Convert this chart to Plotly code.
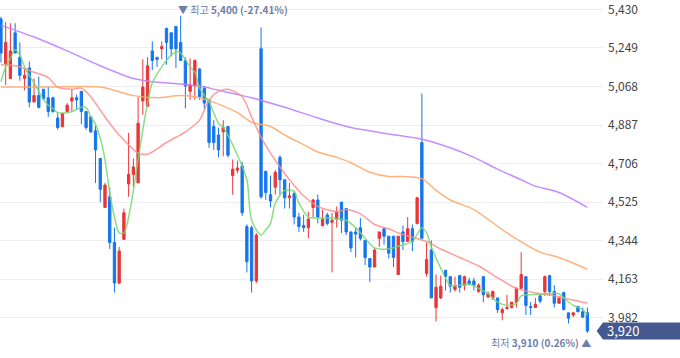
import plotly.graph_objects as go

# ---- candle data (index 0..124) ----
opens = [5385,5175,5105,5320,5205,5105,5155,4995,5025,5055,5015,5015,4920,4880,4950,5000,5015,5045,4950,4925,
         4860,4730,4500,4550,4335,4145,4350,4610,4655,4615,5000,4975,5235,5205,5245,5340,5320,5350,5275,5190,
         5045,5070,5150,5060,5005,4880,4840,4855,4880,4650,4675,4695,4410,4405,4155,5245,4670,4560,4595,4735,
         4630,4545,4565,4455,4415,4405,4500,4535,4415,4465,4430,4445,4525,4495,4385,4385,4405,4345,4260,4220,
         4355,4400,4365,4365,4185,4385,4340,4400,4425,4805,4190,4300,4030,4075,4205,4175,4115,4180,4135,4155,
         4155,4105,4175,4080,4075,4075,4005,4025,4030,4055,4120,4175,4035,4030,4085,4105,4180,4105,4050,4100,
         4005,3995,4035,4010,4005]
highs = [5395,5370,5365,5365,5275,5150,5185,5105,5115,5055,5070,5020,4945,4945,4990,5055,5030,5045,4950,4930,
         4885,4730,4615,4595,4405,4315,4495,4850,4730,5020,5195,5205,5280,5205,5280,5345,5320,5350,5400,5205,
         5200,5195,5155,5070,5005,4910,4875,4910,4880,4725,4720,4715,4420,4415,4380,5345,4670,4650,4675,4745,
         4630,4615,4575,4475,4465,4480,4540,4560,4490,4475,4475,4505,4525,4495,4385,4405,4450,4345,4260,4310,
         4385,4400,4365,4365,4365,4415,4455,4420,4550,5035,4335,4345,4185,4180,4205,4175,4175,4180,4180,4170,
         4170,4145,4175,4105,4110,4075,4030,4090,4055,4125,4290,4175,4055,4075,4090,4180,4180,4135,4075,4105,
         4005,4010,4035,4030,4030]
lows = [5180,5075,5105,5225,5095,5050,4970,4995,4965,5005,4925,4945,4865,4875,4945,4950,4960,4890,4865,4850,
        4615,4525,4500,4305,4100,4140,4350,4550,4595,4615,4935,4975,5145,5160,5195,5170,5210,5155,5190,4965,
        5005,5005,5005,4960,4780,4770,4735,4740,4735,4560,4660,4460,4195,4100,4145,4540,4535,4500,4560,4560,
        4495,4495,4420,4385,4385,4355,4455,4425,4410,4415,4195,4405,4380,4370,4290,4265,4345,4230,4150,4220,
        4315,4325,4260,4220,4185,4300,4340,4295,4420,4355,4175,4075,3965,4070,4110,4100,4105,4100,4110,4135,
        4110,4100,4055,4075,4065,4005,3970,4020,4025,4030,4120,3995,3995,4030,4050,4085,4085,4030,4050,4020,
        3955,3985,4010,3980,3910]
closes = [5225,5275,5235,5225,5120,5120,4995,5025,4970,5010,4950,4950,4875,4940,4980,5015,5005,4950,4875,4855,
          4770,4585,4605,4335,4145,4295,4475,4655,4690,4895,5065,5165,5190,5195,5255,5275,5245,5245,5190,5070,
          5075,5190,5020,4990,4805,4805,4770,4875,4745,4680,4685,4475,4245,4155,4370,4550,4570,4530,4665,4630,
          4545,4555,4455,4410,4405,4445,4535,4455,4445,4425,4440,4480,4440,4385,4310,4375,4355,4265,4220,4300,
          4385,4365,4285,4265,4365,4340,4400,4340,4545,4355,4255,4075,4125,4130,4175,4130,4130,4125,4175,4140,
          4135,4135,4090,4095,4105,4020,4020,4030,4055,4120,4185,4040,4030,4045,4060,4175,4105,4050,4075,4020,
          3980,4005,4010,3985,3920]

# ---- moving averages (candle index, price) ----
ma5_idx = [0,1,2,3,4,5,6,7,8,9,10,11,12,14,15,17,18,19,20,21,22,23,24,25,26,27,28,29,30,31,32,34,36,37,38,40,41,
           42,44,46,47,50,52,53,55,56,57,58,60,62,63,65,67,70,73,75,77,79,82,85,87,89,90,91,93,95,97,99,101,103,
           105,107,109,110,112,115,118,119,121,123,124]
ma5_val = [5090,5160,5200,5240,5215,5160,5120,5085,5045,5005,4980,4965,4945,4945,4950,4970,4970,4925,4890,4825,4725,
           4570,4455,4380,4380,4455,4580,4725,4865,4990,5085,5160,5215,5230,5225,5160,5135,5060,4995,4895,4875,
           4745,4630,4440,4370,4395,4425,4520,4580,4575,4520,4455,4450,4450,4440,4405,4355,4310,4305,4325,4340,
           4405,4380,4315,4215,4135,4135,4140,4120,4095,4055,4040,4050,4085,4090,4095,4095,4075,4040,4020,3995]
ma20_idx = [0,3,7,10,12,15,17,19,22,25,29,31,35,39,42,44,46,48,51,53,55,57,59,61,64,67,71,73,76,79,82,84,87,90,93,
            97,101,105,109,114,117,121,124]
ma20_val = [5170,5165,5135,5110,5065,5055,5060,5020,4925,4840,4755,4750,4805,4855,4910,5005,5045,5055,5020,4925,4830,
            4755,4690,4630,4555,4505,4480,4490,4470,4420,4400,4380,4360,4340,4305,4265,4225,4170,4120,4095,4085,
            4065,4050]
ma60_idx = [0,10,21,28,33,38,42,46,50,53,57,60,64,67,71,74,78,82,85,89,92,95,100,107,114,118,124]
ma60_val = [5065,5065,5065,5025,5015,5025,5015,4985,4945,4900,4880,4840,4795,4760,4735,4710,4665,4645,4645,4635,
            4580,4535,4490,4380,4290,4265,4210]
ma120_idx = [0,7,14,21,28,32,35,42,46,53,60,67,74,82,89,95,100,105,110,113,118,124]
ma120_val = [5355,5300,5235,5165,5105,5090,5085,5070,5050,5015,4970,4920,4875,4845,4820,4780,4735,4680,4630,4600,
             4570,4500]

y_ticks = [3982, 4163, 4344, 4525, 4706, 4887, 5068, 5249, 5430]

idx = list(range(len(closes)))
RED = "#ec3437"
BLUE = "#1576ec"
FONT = "Noto Sans CJK KR"

fig = go.Figure()
fig.add_trace(go.Candlestick(
    x=idx, open=opens, high=highs, low=lows, close=closes,
    increasing=dict(line=dict(color=RED, width=1), fillcolor=RED),
    decreasing=dict(line=dict(color=BLUE, width=1), fillcolor=BLUE),
    whiskerwidth=0, showlegend=False, hoverinfo="skip"))

for xs, ys, col in [(ma120_idx, ma120_val, "rgba(190,130,255,0.9)"),
                    (ma60_idx, ma60_val, "rgba(255,170,110,0.9)"),
                    (ma20_idx, ma20_val, "rgba(255,140,140,0.85)"),
                    (ma5_idx, ma5_val, "rgba(120,215,110,0.85)")]:
    fig.add_trace(go.Scatter(x=xs, y=ys, mode="lines",
                             line=dict(color=col, width=1.5, shape="spline", smoothing=0.8),
                             showlegend=False, hoverinfo="skip"))

# high / low annotations
imax = max(idx, key=lambda i: highs[i])
imin = min(idx, key=lambda i: lows[i])
last = closes[-1]
hi_pct = (last - highs[imax]) / highs[imax] * 100
lo_pct = (last - lows[imin]) / lows[imin] * 100
ANN = "#6f7ea8"
fig.add_annotation(x=imax, y=highs[imax], xref="x", yref="y", xanchor="left", yanchor="middle",
                   xshift=-5, yshift=6, showarrow=False,
                   text=f"▼ 최고 <b>{highs[imax]:,} ({hi_pct:.2f}%)</b>",
                   font=dict(family=FONT, size=10, color=ANN))
fig.add_annotation(x=imin, y=lows[imin], xref="x", yref="y", xanchor="right", yanchor="middle",
                   xshift=6, yshift=-9, showarrow=False,
                   text=f"최저 <b>{lows[imin]:,} ({lo_pct:.2f}%)</b> ▲",
                   font=dict(family=FONT, size=10, color=ANN))

# last price tag
half = 40
fig.add_shape(type="path", xref="paper", yref="y", layer="above",
              path=f"M 0.9895,{last} L 1.0,{last+half} L 1.13,{last+half} L 1.13,{last-half} L 1.0,{last-half} Z",
              fillcolor="#45598f", line=dict(width=0))
fig.add_annotation(x=1.0, y=last, xref="paper", yref="y", xanchor="left", yanchor="middle",
                   xshift=2, showarrow=False, text=f"{last:,}",
                   font=dict(family=FONT, size=13, color="white"))

fig.update_layout(
    width=680, height=358, margin=dict(l=0, r=77, t=0, b=0),
    paper_bgcolor="white", plot_bgcolor="white",
    xaxis=dict(range=[-0.2, 127.3], showgrid=False, zeroline=False, showticklabels=False,
               rangeslider=dict(visible=False), fixedrange=True),
    yaxis=dict(side="right", range=[3793, 5474], tickvals=y_ticks,
               ticktext=[f"{v:,}" for v in y_ticks], showgrid=True, gridcolor="#eceef2",
               gridwidth=1, zeroline=False, ticks="", ticklabelstandoff=4,
               ticklabeloverflow="allow",
               tickfont=dict(family=FONT, size=12, color="#444")),
    showlegend=False,
)
fig.write_html("out.html", config={"displayModeBar": False},
               post_script="document.body.style.margin='0';document.body.style.padding='0';")
